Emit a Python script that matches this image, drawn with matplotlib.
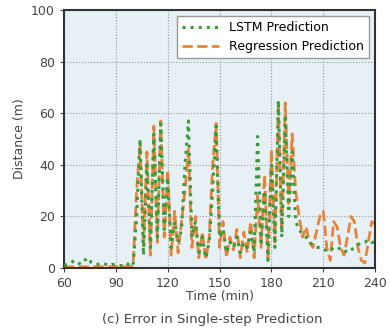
import numpy as np
import matplotlib
matplotlib.use('Agg')
import matplotlib.pyplot as plt

# time axis, one sample every 2 minutes
times = np.arange(60, 241, 2)

# LSTM error (m)
lstm_err = [1, 1.5, 2, 3, 2, 1.5, 3, 4, 2, 1.5, 1.5, 2, 1.5, 1, 1.5, 1, 1, 1, 2, 1, 1,
            20, 50, 5, 40, 8, 52, 12, 56, 15, 35,
            8, 18, 10, 15, 40, 57, 12, 18, 6, 12,
            4, 10, 30, 55, 12, 15, 6, 10, 8, 12,
            6, 10, 8, 14, 6, 51, 10, 30, 3, 40,
            8, 65, 12, 58, 20, 45, 18, 15, 13, 12,
            10, 9, 8, 8, 7, 7, 8, 7, 7, 8,
            7, 6, 7, 8, 9, 10, 10, 11, 10, 10]

# regression error (m)
reg_err = [0.5, 0.5, 0.5, 0.5, 0.5, 0.5, 0.5, 0.5, 0.5, 0.5, 0.5, 0.5, 0.5, 0.5, 0.5, 0.5, 0.5, 0.5, 0.5, 0.5, 1,
           30, 48, 8, 45, 5, 55, 10, 57, 12, 38,
           5, 22, 6, 18, 30, 46, 8, 20, 4, 14,
           3, 12, 40, 56, 8, 18, 4, 12, 7, 15,
           4, 14, 6, 18, 4, 28, 8, 36, 4, 46,
           10, 62, 14, 64, 25, 52, 30, 20, 12, 16,
           10, 8, 14, 20, 22, 8, 3, 18, 16, 8,
           5, 12, 20, 18, 8, 3, 2, 10, 18, 17]

fig = plt.figure(figsize=(3.9, 3.31), dpi=100)
ax = fig.add_axes([0.164, 0.19, 0.798, 0.78])
ax.set_facecolor('#e6f0f5')

ax.plot(times, lstm_err, color='#3a9a3a', linestyle=':', linewidth=2.2, label='LSTM Prediction', zorder=3)
ax.plot(times, reg_err, color='#e8843a', linestyle='--', linewidth=2.0, label='Regression Prediction', zorder=2)

ax.set_xlim(60, 240)
ax.set_ylim(0, 100)
ax.set_xticks(range(60, 241, 30))
ax.set_yticks(range(0, 101, 20))
ax.grid(True, linestyle=':', color='#999999', linewidth=0.8)
ax.set_axisbelow(True)
for s in ax.spines.values():
    s.set_color('#333333')
    s.set_linewidth(1.5)
ax.tick_params(labelsize=9, colors='#444444', length=3)
ax.set_xlabel('Time (min)', fontsize=9, color='#444444', labelpad=0)
ax.set_ylabel('Distance (m)', fontsize=9, color='#444444')

ax.legend(loc='upper right', fontsize=9, frameon=True, fancybox=False,
          edgecolor='#999999', framealpha=1.0, handlelength=3)

fig.text(0.545, 0.025, '(c) Error in Single-step Prediction', ha='center', fontsize=9.5, color='#444444')

fig.savefig('out.png', dpi=100)
